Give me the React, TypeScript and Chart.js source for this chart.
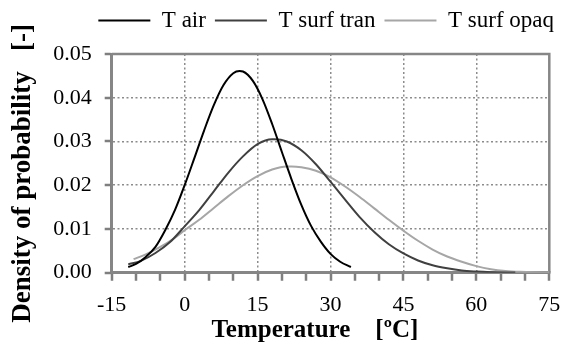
import React, { useEffect, useRef } from "react";
import { Chart, registerables } from "chart.js";

Chart.register(...registerables);

// Temperature (ºC) sample positions and density values
const airTemp = [-11.6, -10, -8, -6, -4, -2, 0, 2, 4, 6, 8, 10, 11.3, 12, 14, 16, 18, 20, 22, 24, 26, 28, 30, 32, 34.2];
const airDens = [0.0013, 0.002, 0.0036, 0.0059, 0.0097, 0.0143, 0.02, 0.0262, 0.0325, 0.0383, 0.0429, 0.0456, 0.0461, 0.046, 0.0439, 0.0397, 0.034, 0.0276, 0.0213, 0.0155, 0.0107, 0.0071, 0.0043, 0.0025, 0.0013];

const tranTemp = [-11.6, -9, -6, -3, 0, 3, 6, 9, 12, 15, 18, 18.5, 21, 24, 27, 30, 33, 36, 39, 42, 45, 48, 51, 54, 57, 60, 63, 66, 68];
const tranDens = [0.0019, 0.0027, 0.0045, 0.007, 0.0106, 0.0143, 0.0186, 0.0229, 0.0266, 0.0294, 0.0305, 0.0305, 0.03, 0.028, 0.0248, 0.0208, 0.0167, 0.0127, 0.0093, 0.0065, 0.0044, 0.0028, 0.0017, 0.001, 0.0005, 0.00027, 0.00013, 0.00006, 0.00003];

const opaqTemp = [-10.5, -8, -5, -2, 0, 3, 6, 9, 12, 15, 18, 21, 22, 24, 27, 30, 33, 36, 39, 42, 45, 48, 51, 54, 57, 60, 63, 66, 69, 72, 75];
const opaqDens = [0.0031, 0.0042, 0.0059, 0.008, 0.0097, 0.0121, 0.0148, 0.0175, 0.02, 0.0221, 0.0236, 0.0243, 0.0243, 0.0241, 0.0233, 0.0218, 0.0197, 0.0173, 0.0147, 0.0121, 0.0096, 0.0073, 0.0053, 0.0037, 0.0025, 0.0015, 0.0008, 0.0004, 0.0002, 0.0001, 0.00005];

const seriesNames = ["T air", "T surf tran", "T surf opaq"];
const xMin = -15;
const xMax = 75;
const xStep = 5;
const xLabelStep = 15;
const yMin = 0;
const yMax = 0.05;
const yStep = 0.01;

const AXIS = "#868686";
const GRID = "#8c8c8c";

const toPoints = (xs: number[], ys: number[]) => xs.map((x, i) => ({ x, y: ys[i] }));

const framePlugin = {
  id: "frame",
  beforeDatasetsDraw(chart: any) {
    const { ctx, chartArea } = chart;
    ctx.save();
    ctx.strokeStyle = AXIS;
    ctx.lineWidth = 2.5;
    ctx.beginPath();
    ctx.moveTo(chartArea.left, chartArea.top);
    ctx.lineTo(chartArea.right, chartArea.top);
    ctx.lineTo(chartArea.right, chartArea.bottom);
    ctx.stroke();
    ctx.restore();
  },
  afterDraw(chart: any) {
    const { ctx, chartArea, scales } = chart;
    ctx.save();
    ctx.lineWidth = 2.5;
    ctx.strokeStyle = "#7f7f7f";
    ctx.setLineDash([]);
    ctx.beginPath();
    const xs = scales.x;
    for (let v = xMin; v <= xMax + 1e-9; v += xStep) {
      const px = Math.round(xs.getPixelForValue(v));
      ctx.moveTo(px, chartArea.bottom + 1);
      ctx.lineTo(px, chartArea.bottom + 8);
    }
    const ys = scales.y;
    for (let k = 0; k <= Math.round((yMax - yMin) / yStep); k++) {
      const py = Math.round(ys.getPixelForValue(yMin + k * yStep));
      ctx.moveTo(chartArea.left - 1, py);
      ctx.lineTo(chartArea.left - 7, py);
    }
    ctx.stroke();
    ctx.restore();
  },
};

export default function App() {
  const ref = useRef<HTMLCanvasElement | null>(null);

  useEffect(() => {
    document.body.style.margin = "0";
    if (!ref.current) return;
    const serif = "'Liberation Serif', 'Times New Roman', serif";
    const lineDs = (label: string, xs: number[], ys: number[], color: string) => ({
      label,
      data: toPoints(xs, ys),
      borderColor: color,
      backgroundColor: color,
      borderWidth: 2,
      pointRadius: 0,
      pointStyle: "line",
      cubicInterpolationMode: "monotone" as const,
      fill: false,
      xAxisID: "x",
      yAxisID: "y",
    });
    const chart = new Chart(ref.current, {
      type: "line",
      data: {
        datasets: [
          lineDs(seriesNames[0], airTemp, airDens, "#000000"),
          lineDs(seriesNames[1], tranTemp, tranDens, "#404040"),
          lineDs(seriesNames[2], opaqTemp, opaqDens, "#a6a6a6"),
        ],
      },
      options: {
        animation: false,
        responsive: false,
        maintainAspectRatio: false,
        layout: { padding: { left: 0, right: 0, top: 0, bottom: 0 } },
        plugins: {
          tooltip: { enabled: false },
          legend: {
            position: "top",
            align: "end",
            labels: {
              usePointStyle: true,
              pointStyle: "line",
              pointStyleWidth: 52,
              color: "#000",
              padding: 9,
              font: { family: serif, size: 23 },
            },
          },
        },
        scales: {
          xTop: {
            type: "linear",
            position: "top",
            min: xMin,
            max: xMax,
            display: true,
            ticks: { display: false },
            grid: { display: false },
            border: { display: false },
            afterFit: (s: any) => {
              s.height = 12;
            },
          },
          x: {
            type: "linear",
            position: "bottom",
            min: xMin,
            max: xMax,
            afterFit: (s: any) => {
              s.height = 73.3;
              s.paddingRight = 13.7;
            },
            ticks: {
              stepSize: xStep,
              autoSkip: false,
              maxRotation: 0,
              color: "#000",
              padding: 12,
              font: { family: serif, size: 22 },
              callback: (v: any) => (Number(v) % xLabelStep === 0 ? String(v) : ""),
            },
            grid: {
              color: (c: any) => {
                const v = c.tick ? c.tick.value : NaN;
                return v % xLabelStep === 0 && v !== xMin && v !== xMax ? GRID : "rgba(0,0,0,0)";
              },
              lineWidth: 1.5,
              drawTicks: true,
              tickColor: "rgba(0,0,0,0)",
              tickLength: 7,
            },
            border: { display: true, color: AXIS, width: 3, dash: [2, 2.5] },
            title: {
              display: true,
              text: "Temperature    [ºC]     ",
              color: "#000",
              font: { family: serif, size: 25, weight: "bold" },
              padding: { top: 2, bottom: 0 },
            },
          },
          y: {
            type: "linear",
            position: "left",
            min: yMin,
            max: yMax,
            afterFit: (s: any) => {
              s.width = 111.7;
            },
            ticks: {
              stepSize: yStep,
              color: "#000",
              padding: 14,
              font: { family: serif, size: 22 },
              callback: (v: any) => Number(v).toFixed(2),
            },
            grid: {
              color: (c: any) => {
                const v = c.tick ? c.tick.value : NaN;
                return v > 1e-9 && Math.abs(v - yMax) > 1e-9 ? GRID : "rgba(0,0,0,0)";
              },
              lineWidth: 1.5,
              drawTicks: true,
              tickColor: "rgba(0,0,0,0)",
              tickLength: 6,
            },
            border: { display: true, color: AXIS, width: 3, dash: [2, 2.5] },
            title: {
              display: true,
              text: "Density of probability   [-]   ",
              color: "#000",
              font: { family: serif, size: 27, weight: "bold" },
              padding: { top: 7, bottom: 0 },
            },
          },
        },
      },
      plugins: [framePlugin],
    });
    return () => chart.destroy();
  }, []);

  return (
    <div style={{ position: "absolute", left: 0, top: 0, width: 563, height: 346 }}>
      <canvas ref={ref} width={563} height={346} style={{ width: 563, height: 346 }} />
    </div>
  );
}
